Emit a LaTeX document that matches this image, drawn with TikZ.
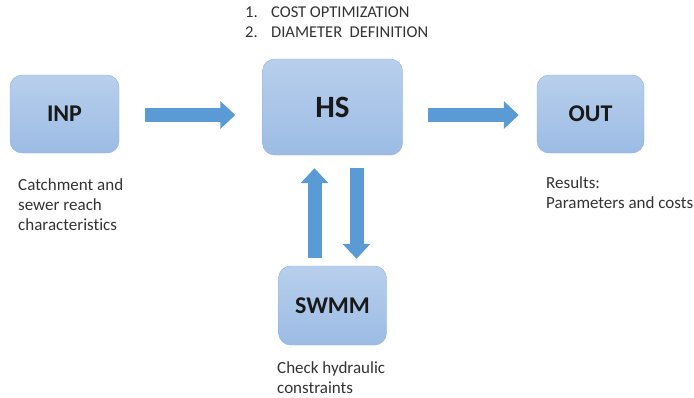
\documentclass[tikz,border=0pt]{standalone}
\usepackage{fontspec}
\setmainfont[Ligatures=CommonOff]{Carlito}
\usetikzlibrary{arrows.meta}
\definecolor{boxtop}{HTML}{B8CFEC}
\definecolor{boxbot}{HTML}{9CBCE5}
\definecolor{boxline}{HTML}{8FB1DC}
\definecolor{arrowblue}{HTML}{5B9BD5}
\definecolor{notegray}{HTML}{333333}

\begin{document}
\begin{tikzpicture}[x=1pt, y=-1pt,
	block/.style={draw=boxline, thin, rounded corners=12pt, top color=boxtop, bottom color=boxbot, text=black!90, font=\bfseries\fontsize{24}{28}\selectfont, inner sep=0pt},
	fat/.style={arrowblue, line width=14pt, -{Triangle[width=27pt,length=15pt]}},
	note/.style={text=notegray, font=\fontsize{17}{20}\selectfont, align=left, anchor=north west, inner sep=0pt}]
	\useasboundingbox (0,0) rectangle (694,397);
	% boxes
	\node [block, minimum width=109pt, minimum height=78pt] (inp) at (64.5,114) {INP};
	\node [block, minimum width=140pt, minimum height=96pt, font=\bfseries\fontsize{31}{36}\selectfont] (hs) at (332.5,107) {HS};
	\node [block, minimum width=108pt, minimum height=79pt] (swmm) at (332.5,305.5) {SWMM};
	\node [block, minimum width=107pt, minimum height=78pt] (out) at (590.5,114) {OUT};
	% texts
	\node [note, font=\fontsize{16.5}{20}\selectfont] (tasks) at (245,7) {\makebox[26pt][l]{1.}COST OPTIMIZATION\\\makebox[26pt][l]{2.}DIAMETER\ \ DEFINITION};
	\node [note] (inptxt) at (18,178) {Catchment and\\sewer reach\\characteristics};
	\node [note] (outtxt) at (546,176) {Results:\\Parameters and costs};
	\node [note] (swmmtxt) at (277,361) {Check hydraulic\\constraints};
	% arrows
	\coordinate (a1) at ([xshift=26,yshift=-1]inp.east);
	\draw [fat] (a1) -- ([xshift=-27]a1 -| hs.west);
	\draw [fat] ([xshift=25]a1 -| hs.east) -- ([xshift=-18]a1 -| out.west);
	\draw [fat] ([xshift=-18,yshift=8]swmm.north) -- ([xshift=-18,yshift=-13]hs.south);
	\draw [fat] ([xshift=24,yshift=-13]hs.south) -- ([xshift=24,yshift=7]swmm.north);
\end{tikzpicture}
\end{document}
